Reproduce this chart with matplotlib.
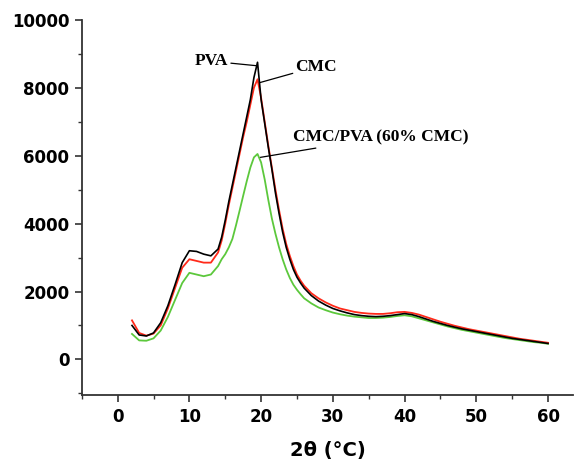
import matplotlib
matplotlib.use("Agg")
import matplotlib.pyplot as plt
from matplotlib.ticker import MultipleLocator

# 2theta positions (deg)
two_theta = [2, 3, 4, 5, 6, 7, 8, 9, 10, 11, 12, 13, 14,
             14.5, 15, 15.5, 16, 16.5, 17, 17.5, 18, 18.5, 19, 19.5, 20,
             20.5, 21, 21.5, 22, 22.5, 23, 23.5, 24, 24.5, 25, 25.5, 26,
             27, 28, 29, 30, 31, 32, 33, 34, 35, 36, 37, 38, 39, 40,
             41, 42, 43, 44, 45, 46, 47, 48, 49, 50, 51, 52, 53, 54,
             55, 56, 57, 58, 59, 60]

pva = [1000, 720, 690, 780, 1080, 1580, 2200, 2850, 3200, 3180, 3100, 3050, 3250,
       3600, 4100, 4650, 5150, 5650, 6150, 6650, 7150, 7650, 8300, 8750, 7650,
       6950, 6250, 5600, 4900, 4300, 3750, 3300, 2950, 2650, 2420, 2250, 2100,
       1880, 1720, 1600, 1500, 1430, 1370, 1320, 1290, 1270, 1260, 1270, 1290, 1320, 1350,
       1320, 1260, 1190, 1120, 1060, 1000, 950, 900, 860, 820, 780, 740, 700, 660,
       620, 590, 560, 530, 500, 470]

cmc = [1150, 780, 700, 760, 1000, 1500, 2100, 2700, 2950, 2900, 2850, 2850, 3150,
       3500, 4000, 4550, 5050, 5550, 6050, 6550, 7000, 7500, 8000, 8250, 7700,
       7000, 6300, 5650, 5000, 4400, 3850, 3400, 3050, 2750, 2500, 2320, 2170,
       1950, 1800, 1680, 1580, 1500, 1450, 1400, 1370, 1350, 1340, 1340, 1360, 1390, 1400,
       1370, 1320, 1250, 1180, 1110, 1050, 990, 940, 890, 850, 810, 770, 730, 690,
       650, 610, 580, 550, 520, 490]

blend = [750, 560, 550, 620, 850, 1250, 1750, 2250, 2550, 2500, 2450, 2500, 2750,
         2950, 3100, 3300, 3550, 3950, 4380, 4820, 5250, 5650, 5950, 6050, 5800,
         5300, 4700, 4150, 3700, 3300, 2950, 2650, 2400, 2200, 2050, 1920, 1800,
         1650, 1530, 1450, 1380, 1330, 1290, 1260, 1240, 1220, 1220, 1230, 1250, 1280, 1300,
         1270, 1210, 1150, 1090, 1030, 970, 920, 870, 830, 790, 750, 710, 670, 630,
         600, 570, 540, 510, 490, 460]

fig = plt.figure(figsize=(5.76, 4.61), dpi=100)
ax = fig.add_axes([0.142, 0.143, 0.853, 0.814])

ax.plot(two_theta, blend, color="#5cc83c", lw=1.3)
ax.plot(two_theta, cmc, color="#ff2a1a", lw=1.3)
ax.plot(two_theta, pva, color="black", lw=1.2)

ax.set_xlim(-5, 63.5)
ax.set_ylim(-1050, 10000)
for s in ["top", "right"]:
    ax.spines[s].set_visible(False)
for s in ["left", "bottom"]:
    ax.spines[s].set_linewidth(1.3)
    ax.spines[s].set_color("#333333")

ax.xaxis.set_major_locator(MultipleLocator(10))
ax.xaxis.set_minor_locator(MultipleLocator(5))
ax.yaxis.set_major_locator(MultipleLocator(2000))
ax.yaxis.set_minor_locator(MultipleLocator(1000))
ax.tick_params(which="major", direction="out", length=5, width=1.2, color="#333333")
ax.tick_params(which="minor", direction="out", length=3, width=1.0, color="#333333")
ax.tick_params(axis="x", pad=4)
ax.tick_params(axis="y", pad=4)
for lab in ax.get_xticklabels() + ax.get_yticklabels():
    lab.set_fontfamily("DejaVu Sans")
    lab.set_fontweight("heavy")
    lab.set_fontsize(12)

ax.set_xlabel("2θ (°C)", fontsize=14, fontweight="heavy", family="DejaVu Sans", labelpad=11)

ann = dict(fontsize=12.5, fontweight="bold", family="Liberation Serif")
ax.annotate("PVA", xy=(19.3, 8650), xytext=(15.4, 8780), ha="right", va="center",
            arrowprops=dict(arrowstyle="-", color="black", lw=0.9, shrinkA=0, shrinkB=0), **ann)
ax.annotate("CMC", xy=(19.8, 8150), xytext=(24.8, 8620), ha="left", va="center",
            arrowprops=dict(arrowstyle="-", color="black", lw=0.9, shrinkA=0, shrinkB=0), **ann)
ax.annotate("CMC/PVA (60% CMC)", xy=(19.9, 5950), xytext=(24.4, 6540), ha="left", va="center",
            arrowprops=dict(arrowstyle="-", color="black", lw=0.9, shrinkA=0, shrinkB=0), **ann)

fig.savefig("out.png", dpi=100)
